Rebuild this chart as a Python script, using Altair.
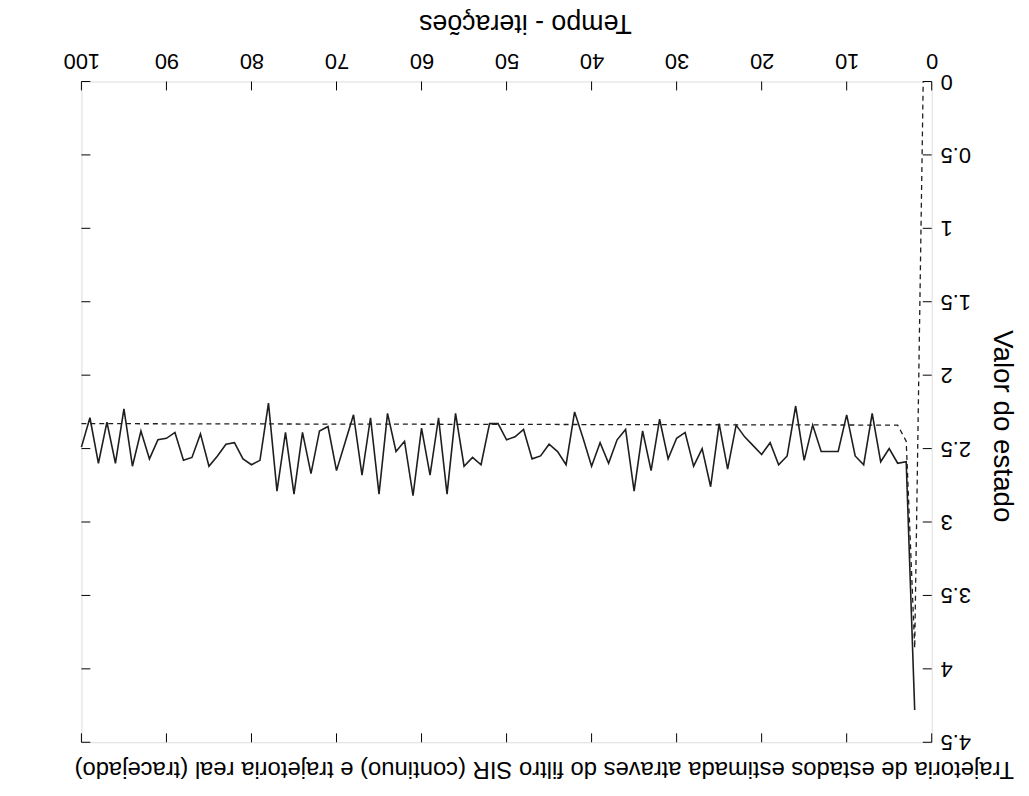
import altair as alt
import pandas as pd

# ---- data read from the (180°-rotated) reference ----
x_ticks = [0, 10, 20, 30, 40, 50, 60, 70, 80, 90, 100]
y_ticks = [0, 0.5, 1, 1.5, 2, 2.5, 3, 3.5, 4, 4.5]
y_tick_labels = ["0", "0.5", "1", "1.5", "2", "2.5", "3", "3.5", "4", "4.5"]

# estimated trajectory (solid), t = 2 .. 100
est_values = [
    4.28, 2.59, 2.60, 2.50, 2.59, 2.26, 2.61, 2.55, 2.27,          # t 2-10
    2.52, 2.52, 2.52, 2.34, 2.58, 2.21, 2.55, 2.61, 2.46, 2.54,    # t 11-20
    2.48, 2.42, 2.34, 2.64, 2.33, 2.76, 2.50, 2.62, 2.39, 2.43,    # t 21-30
    2.57, 2.30, 2.65, 2.38, 2.79, 2.37, 2.44, 2.60, 2.46, 2.62,    # t 31-40
    2.43, 2.25, 2.61, 2.52, 2.47, 2.55, 2.57, 2.37, 2.42, 2.44,    # t 41-50
    2.33, 2.33, 2.61, 2.56, 2.62, 2.26, 2.81, 2.29, 2.68, 2.36,    # t 51-60
    2.82, 2.45, 2.52, 2.26, 2.81, 2.29, 2.68, 2.27, 2.46, 2.65,    # t 61-70
    2.35, 2.38, 2.67, 2.39, 2.81, 2.39, 2.79, 2.19, 2.58, 2.61,    # t 71-80
    2.57, 2.46, 2.47, 2.55, 2.62, 2.40, 2.56, 2.58, 2.39, 2.43,    # t 81-90
    2.44, 2.57, 2.38, 2.62, 2.23, 2.60, 2.32, 2.60, 2.29, 2.49,    # t 91-100
]
est_times = list(range(2, 2 + len(est_values)))

# real trajectory (dashed): break points only, it is flat afterwards
real_times = [1, 2, 3, 4, 100]
real_values = [0.0, 3.86, 2.45, 2.34, 2.33]

TITLE = "Trajetoria de estados estimada atraves do filtro SIR (continuo) e trajetoria real (tracejado)"
X_TITLE = "Tempo - iterações"
Y_TITLE = "Valor do estado"

FONT = "Liberation Sans"
W, H = 857, 666
TICK = 9

est_df = pd.DataFrame({"t": est_times, "v": est_values})
real_df = pd.DataFrame({"t": real_times, "v": real_values})
xt_df = pd.DataFrame({"t": x_ticks})
yt_df = pd.DataFrame({"v": y_ticks, "lab": y_tick_labels})

xscale = alt.Scale(domain=[0, 100], reverse=True, nice=False, zero=False)
yscale = alt.Scale(domain=[0, 4.5], reverse=True, nice=False, zero=False)

xaxis = alt.Axis(
    orient="top", values=x_ticks, format="d", ticks=False, domain=False, grid=False,
    labelAngle=180, labelAlign="center", labelBaseline="top", labelPadding=11,
    labelFont=FONT, labelFontSize=22, labelColor="black", labelFlush=False, labelOverlap=False,
    title=X_TITLE, titleAngle=180, titleAlign="center", titleBaseline="top",
    titleFont=FONT, titleFontSize=27, titleFontWeight="normal", titleColor="black",
    titleY=-47, titleX=447,
)
yaxis = alt.Axis(
    orient="right", values=y_ticks, ticks=False, domain=False, grid=False, labels=False,
    title=Y_TITLE, titleAngle=90, titleAlign="center", titleBaseline="middle",
    titleFont=FONT, titleFontSize=28, titleFontWeight="normal", titleColor="black",
    titleX=70, titleY=347,
)

X = alt.X("t:Q", scale=xscale, axis=xaxis)
Y = alt.Y("v:Q", scale=yscale, axis=yaxis)

est_line = alt.Chart(est_df).mark_line(color="#1e1e1e", strokeWidth=1.6).encode(x=X, y=Y)
real_line = alt.Chart(real_df).mark_line(
    color="#1e1e1e", strokeWidth=1.3, strokeDash=[5, 4]
).encode(x=X, y=Y)

tick_top = alt.Chart(xt_df).mark_rule(color="black", strokeWidth=1).encode(
    x=X, y=alt.value(0), y2=alt.value(TICK))
tick_bottom = alt.Chart(xt_df).mark_rule(color="black", strokeWidth=1).encode(
    x=X, y=alt.value(H), y2=alt.value(H - TICK))
tick_right = alt.Chart(yt_df).mark_rule(color="black", strokeWidth=1).encode(
    y=Y, x=alt.value(W), x2=alt.value(W - TICK))
tick_left = alt.Chart(yt_df).mark_rule(color="black", strokeWidth=1).encode(
    y=Y, x=alt.value(0), x2=alt.value(TICK))

y_labels = alt.Chart(yt_df).mark_text(
    angle=180, align="right", baseline="middle", font=FONT, fontSize=22, color="black"
).encode(y=Y, x=alt.value(W + 9), text="lab:N")

chart = alt.layer(
    tick_top, tick_bottom, tick_right, tick_left, y_labels, real_line, est_line
).properties(
    width=W, height=H,
    title=alt.TitleParams(
        TITLE, orient="bottom", angle=180, baseline="bottom", anchor="middle",
        font=FONT, fontSize=24, fontWeight="normal", color="black", offset=4, dx=-38,
    ),
    autosize=alt.AutoSizeParams(type="none"),
    padding={"left": 74, "top": 71, "right": 90, "bottom": 40},
).configure_view(
    stroke="black", strokeWidth=1.2
).configure(background="white")

chart.save("out.html", embed_options={"renderer": "svg", "actions": False})
